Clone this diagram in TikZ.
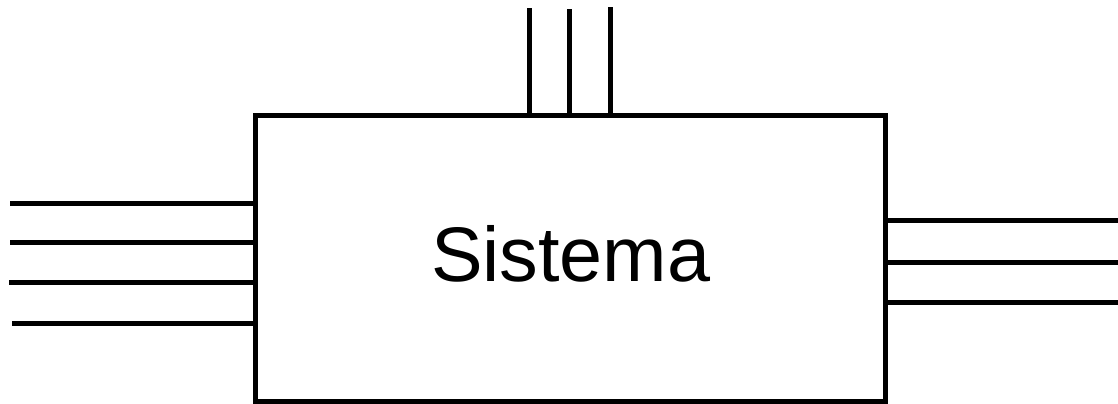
\documentclass[tikz,border=0pt]{standalone}
\usepackage{fontspec}
\setmainfont{Liberation Sans}
\begin{document}
\begin{tikzpicture}[x=0.025cm,y=-0.025cm,
  wire/.style={line width=0.125cm},
  sysbox/.style={draw,line width=0.125cm,minimum width=15.74cm,minimum height=7.15cm,inner sep=0pt,outer sep=0pt},
  systext/.style={inner sep=0pt,font=\fontsize{55}{60}\selectfont}]
\useasboundingbox (0,0) rectangle (1118,403);
\node[sysbox] (box) at (570.75,258.5) {};
\node[systext] (lbl) at ([yshift=0.11cm]box.center) {Sistema};
% top wires
\coordinate (T1) at (529,8);
\coordinate (T2) at (569,9);
\coordinate (T3) at (610,7);
\foreach \c in {T1,T2,T3} \draw[wire] (\c) -- (\c |- box.north);
% left wires
\coordinate (L1) at (10,203);
\coordinate (L2) at (10,242);
\coordinate (L3) at (9,282);
\coordinate (L4) at (12,323);
\foreach \c in {L1,L2,L3,L4} \draw[wire] (\c) -- (\c -| box.west);
% right wires
\coordinate (R1) at (1118,220);
\coordinate (R2) at (1118,262);
\coordinate (R3) at (1118,302);
\foreach \c in {R1,R2,R3} \draw[wire] (\c) -- (\c -| box.east);
\end{tikzpicture}
\end{document}
